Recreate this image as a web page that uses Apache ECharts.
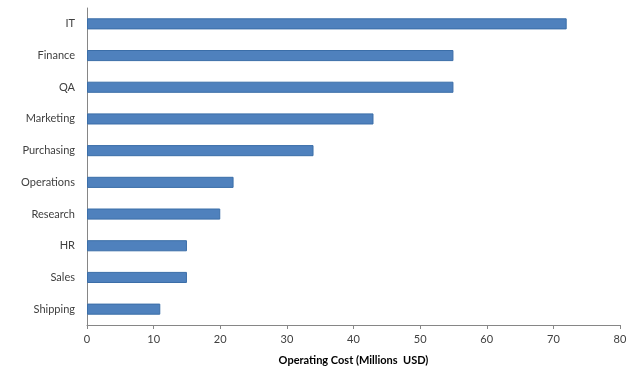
<!DOCTYPE html>
<html><head><meta charset="utf-8">
<script src="https://cdn.jsdelivr.net/npm/echarts@6/dist/echarts.min.js"></script>
<style>html,body{margin:0;padding:0;background:#fff}#c{width:640px;height:373px}</style>
</head><body><div id="c"></div>
<script>
const categories = ["IT","Finance","QA","Marketing","Purchasing","Operations","Research","HR","Sales","Shipping"];
const values = [72,55,55,43,34,22,20,15,15,11];
const xTicks = {min:0, max:80, interval:10};
const xTitle = "Operating Cost (Millions  USD)";

const chart = echarts.init(document.getElementById('c'), null, {renderer:'canvas'});
const font = 'Lato, "Noto Sans", sans-serif';
chart.setOption({
  animation:false,
  grid:{left:87, right:20, top:8, bottom:48, containLabel:false},
  xAxis:{type:'value', min:xTicks.min, max:xTicks.max, interval:xTicks.interval,
    name:xTitle, nameLocation:'middle', nameGap:30,
    nameTextStyle:{fontFamily:font, fontSize:11, fontWeight:'bold', color:'#000'},
    axisLine:{show:true, lineStyle:{color:'#868686'}},
    axisTick:{show:true, length:4, lineStyle:{color:'#868686'}},
    axisLabel:{fontFamily:font, fontSize:11, color:'#404040', margin:9},
    splitLine:{show:false}},
  yAxis:{type:'category', data:categories.slice().reverse(),
    axisLine:{lineStyle:{color:'#868686'}},
    axisTick:{length:4, lineStyle:{color:'#868686'}},
    axisLabel:{fontFamily:font, fontSize:11, color:'#404040', margin:12}},
  series:[{type:'bar', data:values.slice().reverse(), barWidth:'35%',
    itemStyle:{color:'#4F81BD', borderColor:'#3B6EA8', borderWidth:1}}]
});
</script></body></html>
